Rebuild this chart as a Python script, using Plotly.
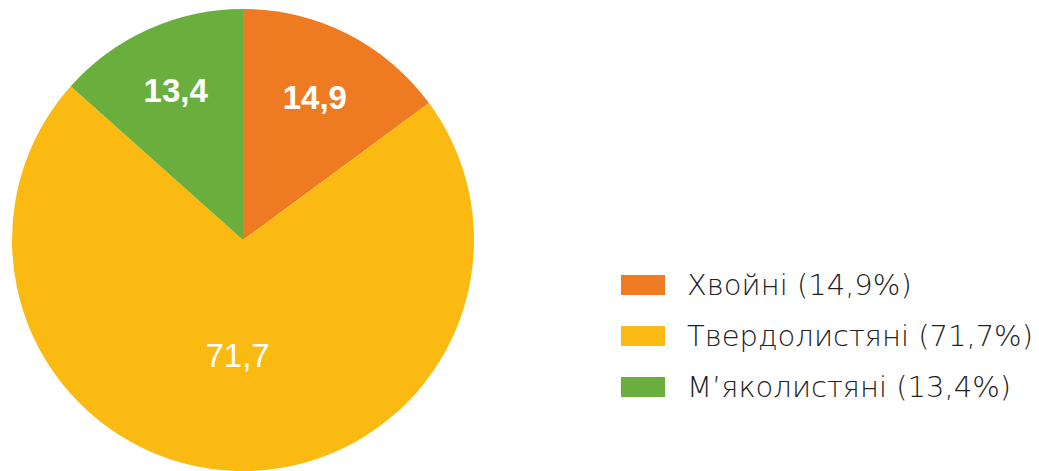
import plotly.graph_objects as go

names = ["Хвойні", "Твердолистяні", "М’яколистяні"]
values = [14.9, 71.7, 13.4]
colors = ["#EE7B22", "#FBBA12", "#6AAF3E"]

def fmt(v):
    return f"{v:.1f}".replace(".", ",")

legend_labels = [f"{n} ({fmt(v)}%)" for n, v in zip(names, values)]
slice_text = [fmt(v) for v in values]

W, H = 1039, 471
fig = go.Figure(go.Pie(
    labels=legend_labels,
    values=values,
    text=slice_text,
    textinfo="text",
    textposition="inside",
    insidetextorientation="horizontal",
    sort=False,
    direction="clockwise",
    rotation=0,
    marker=dict(colors=colors, line=dict(width=0)),
    insidetextfont=dict(color="white", size=33, family="Liberation Sans",
                        weight=["bold", "normal", "bold"]),
    domain=dict(x=[12 / W, 474 / W], y=[0, 462 / H]),
    hoverinfo="skip",
    showlegend=False,
))

# Legend drawn as swatches + text (layout constants in pixels)
LEG_SW_X0, LEG_SW_W, LEG_SW_H = 621, 44, 20
LEG_TEXT_X = 685
LEG_ROW0, LEG_GAP = 285, 51
shapes, annotations = [], []
for i, (lab, col) in enumerate(zip(legend_labels, colors)):
    yc = LEG_ROW0 + i * LEG_GAP
    shapes.append(dict(
        type="rect", xref="paper", yref="paper",
        x0=LEG_SW_X0 / W, x1=(LEG_SW_X0 + LEG_SW_W) / W,
        y0=1 - (yc + LEG_SW_H / 2) / H, y1=1 - (yc - LEG_SW_H / 2) / H,
        fillcolor=col, line=dict(width=0),
    ))
    annotations.append(dict(
        text=lab, xref="paper", yref="paper",
        x=LEG_TEXT_X / W, y=1 - yc / H, xanchor="left", yanchor="middle",
        showarrow=False,
        font=dict(size=29, color="#222222", family="DejaVu Sans", weight=200),
    ))

fig.update_layout(
    width=W, height=H,
    margin=dict(l=0, r=0, t=0, b=0),
    paper_bgcolor="white",
    shapes=shapes,
    annotations=annotations,
)

fig.write_html("out.html")
